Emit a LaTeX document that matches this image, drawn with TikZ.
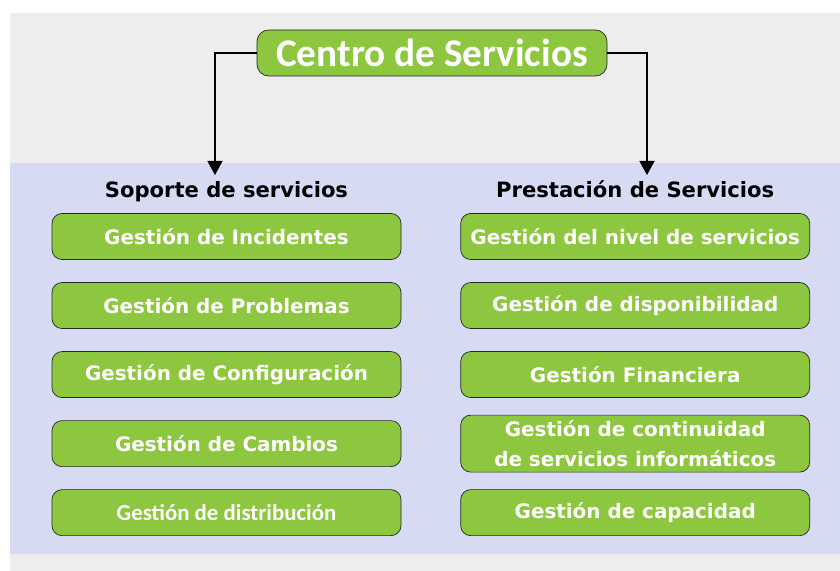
\documentclass[tikz,border=0pt]{standalone}
\usepackage{fontspec}
\setmainfont{DejaVu Sans}
\newfontfamily\titulofont{Carlito}
\usetikzlibrary{arrows.meta,positioning}
\definecolor{verde}{HTML}{8DC63F}
\definecolor{fondoazul}{HTML}{D6DBF3}
\definecolor{fondogris}{HTML}{EDEDED}

\begin{document}
\begin{tikzpicture}[node distance=0.67cm and 1.77cm,
		every node/.style={font=\bfseries},
		caja/.style={draw=black!85, line width=0.6pt, fill=verde, rounded corners=0.3cm, minimum width=10.47cm, minimum height=1.38cm, inner sep=1pt, text=white, align=center, font=\fontsize{17}{20}\selectfont\bfseries},
		titulo/.style={inner sep=0pt, text height=1.5ex, text depth=0.35ex, font=\fontsize{18}{21}\selectfont\bfseries},
		flecha/.style={-{Triangle[width=0.45cm,length=0.42cm]}, line width=1.2pt}]
			% fondo
			\useasboundingbox (0,0) rectangle (25.2,-17.13);
			\fill[white] (0,0) rectangle (25.2,-17.13);
			\fill[fondogris] (0.3,-0.39) rectangle (25.2,-17.13);
			\fill[fondoazul] (0.3,-4.89) rectangle (25.2,-16.62);
			
			\node[caja, minimum width=10.5cm, rounded corners=0.35cm, font=\titulofont\fontsize{33.5}{36}\selectfont\bfseries] (centro) at (12.96,-1.59) {Centro de Servicios};
			
			% columna izquierda
			\node[caja] (sop1) at (6.795,-7.095) {Gestión de Incidentes};
			\node[caja, below=of sop1] (sop2) {Gestión de Problemas};
			\node[caja, below=of sop2] (sop3) {Gestión de Configuración};
			\node[caja, below=of sop3] (sop4) {Gestión de Cambios};
			\node[caja, below=of sop4, font=\titulofont\fontsize{19.5}{22}\selectfont\bfseries] (sop5) {Gestión de distribución};
			
			% columna derecha
			\node[caja, right=of sop1] (pres1) {Gestión del nivel de servicios};
			\node[caja, right=of sop2] (pres2) {Gestión de disponibilidad};
			\node[caja, right=of sop3] (pres3) {Gestión Financiera};
			\node[caja, right=of sop4, minimum height=1.71cm, font=\fontsize{17}{25}\selectfont\bfseries] (pres4) {Gestión de continuidad\\de servicios informáticos};
			\node[caja, right=of sop5] (pres5) {Gestión de capacidad};
			
			\node[titulo, above=0.4cm of sop1] (sop_tit) {Soporte de servicios};
			\node[titulo, above=0.4cm of pres1] (pres_tit) {Prestación de Servicios};
			
			\coordinate (sop_fin) at (6.45,-5.25);
			\coordinate (pres_fin) at (19.41,-5.25);
			\draw[flecha] (centro.west) -| (sop_fin);
			\draw[flecha] (centro.east) -| (pres_fin);
		\end{tikzpicture}
\end{document}
